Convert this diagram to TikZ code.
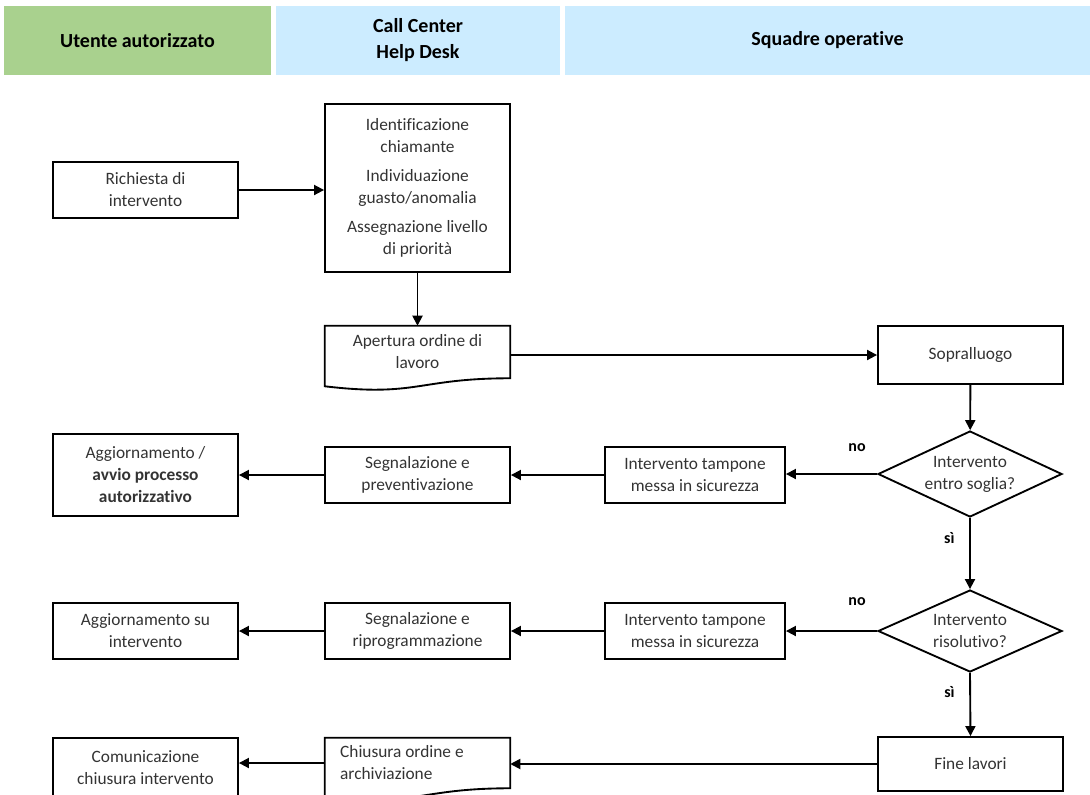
\documentclass[tikz,border=0pt]{standalone}
\usepackage{fontspec}
\setmainfont{Carlito}[Ligatures={NoCommon}]
\usetikzlibrary{arrows.meta,calc,shapes.geometric}
\definecolor{hdgreen}{HTML}{A9D18E}
\definecolor{hdblue}{HTML}{CCECFF}
\definecolor{txt}{HTML}{333333}
\begin{document}
\begin{tikzpicture}[x=0.75pt,y=-0.75pt,
 every node/.style={font=\fontsize{13pt}{16.5pt}\selectfont, text=txt, align=center},
 box/.style={draw=black, line width=1.4pt, inner sep=0pt, minimum width=138.75pt, minimum height=42pt},
 doc/.style={inner sep=0pt, minimum width=138.75pt, minimum height=37.5pt},
 docline/.style={draw=black, line width=1.4pt},
 hdr/.style={inner sep=0pt, text=black, minimum height=51.75pt, font=\bfseries\fontsize{15pt}{19.5pt}\selectfont},
 dia/.style={diamond, draw=black, line width=1.4pt, inner sep=0pt, minimum width=138pt},
 arr/.style={line width=1.4pt, -{Triangle[length=7.5pt,width=7.5pt]}},
 lab/.style={text=black, font=\bfseries\fontsize{12pt}{13pt}\selectfont}
]
\useasboundingbox (0,0) rectangle (1090,794);

% header
\node[hdr, fill=hdgreen, minimum width=200.25pt] (h1) at (137.5,40.5) {Utente autorizzato};
\node[hdr, fill=hdblue, minimum width=213pt] (h2) at (418,40.5) {Call Center\\Help Desk};
\node[hdr, fill=hdblue, minimum width=393.75pt] (h3) at (827.5,40.5) {Squadre operative};

% nodes
\node[box] (ric) at (145.5,190) {Richiesta di\\intervento};
\node[box, minimum height=126pt] (big) at (417.5,188) {Identificazione\\chiamante\\[5pt]Individuazione\\guasto/anomalia\\[5pt]Assegnazione livello\\di priorità};
\node[doc, minimum height=39pt] (ape) at (417.5,352) {Apertura ordine di\\lavoro};
\draw[docline] ($(ape.south west)+(0,8)$) -- (ape.north west) -- (ape.north east) -- (ape.south east)
  .. controls (ape.south) and ($(ape.south)+(0,19)$) .. ($(ape.south west)+(0,8)$) -- cycle;
\node[box, minimum height=43.5pt] (sop) at (970.5,355) {Sopralluogo};

\node[dia, minimum height=64.5pt] (d1) at (970,474) {};
\node (d1t) at (d1) {Intervento\\entro soglia?};
\node[box, minimum width=135pt] (tam1) at (695,475) {Intervento tampone\\messa in sicurezza};
\node[box] (seg1) at (417.5,475) {Segnalazione e\\preventivazione};
\node[box, minimum height=62pt] (agg1) at (145.5,475) {Aggiornamento /\\\textbf{avvio processo}\\\textbf{autorizzativo}};

\node[dia, minimum height=61.5pt] (d2) at (970,631) {};
\node (d2t) at (d2) {Intervento\\risolutivo?};
\node[box, minimum width=135pt] (tam2) at (695,631) {Intervento tampone\\messa in sicurezza};
\node[box] (seg2) at (417.5,631) {Segnalazione e\\riprogrammazione};
\node[box] (agg2) at (145.5,631) {Aggiornamento su\\intervento};

\node[box, minimum height=40.5pt] (fine) at (970.5,764) {Fine lavori};
\node[doc, text width=116pt, align=flush left] (chi) at (417.5,763) {Chiusura ordine e\\archiviazione};
\draw[docline] ($(chi.south west)+(0,8)$) -- (chi.north west) -- (chi.north east) -- (chi.south east)
  .. controls (chi.south) and ($(chi.south)+(0,19)$) .. ($(chi.south west)+(0,8)$) -- cycle;
\node[box, minimum height=44.25pt] (com) at (145.5,767.5) {Comunicazione\\chiusura intervento};

% connectors
\draw[arr] (ric.east) -- (ric.east -| big.west);
\draw[arr] (big) -- (ape);
\draw[arr] (sop.west -| ape.east) -- (sop.west);
\draw[arr] (sop) -- (d1);
\draw[arr] (d1.west) -- (d1.west -| tam1.east) node[lab, pos=0.22, yshift=20pt] {no};
\draw[arr] (tam1) -- (seg1);
\draw[arr] (seg1) -- (agg1);
\draw[arr] (d1.south) -- (d2.north) node[lab, pos=0.28, xshift=-15.5pt] {sì};
\draw[arr] (d2.west) -- (d2.west -| tam2.east) node[lab, pos=0.22, yshift=22pt] {no};
\draw[arr] (tam2) -- (seg2);
\draw[arr] (seg2) -- (agg2);
\draw[arr] (d2.south) -- (fine.north) node[lab, pos=0.31, xshift=-15.5pt] {sì};
\draw[arr] (fine.west) -- (fine.west -| chi.east);
\draw[arr] (chi.west) -- (chi.west -| com.east);
\end{tikzpicture}
\end{document}
